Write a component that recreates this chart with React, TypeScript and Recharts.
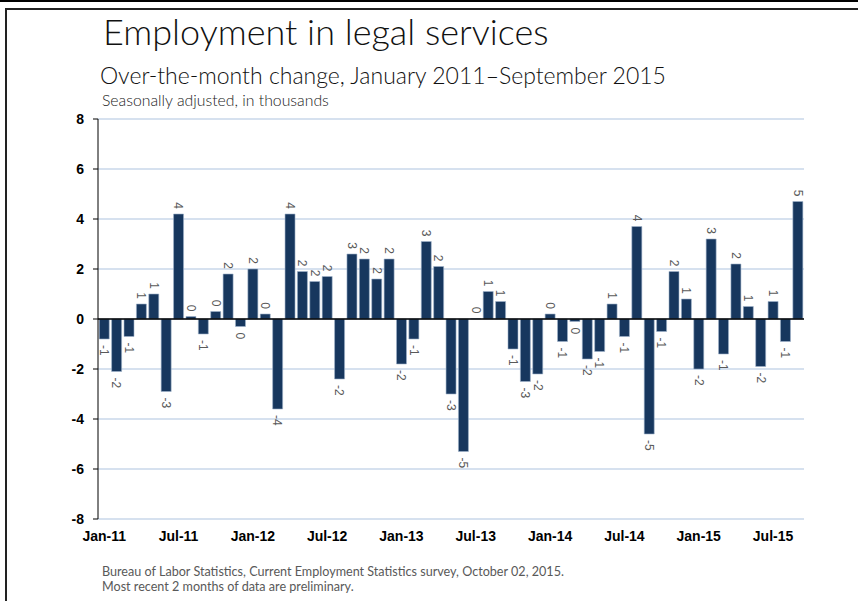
import { BarChart, Bar, XAxis, YAxis, CartesianGrid, ReferenceLine, LabelList } from 'recharts';

const months = [
  'Jan-11', 'Feb-11', 'Mar-11', 'Apr-11', 'May-11', 'Jun-11', 'Jul-11', 'Aug-11', 'Sep-11', 'Oct-11', 'Nov-11', 'Dec-11',
  'Jan-12', 'Feb-12', 'Mar-12', 'Apr-12', 'May-12', 'Jun-12', 'Jul-12', 'Aug-12', 'Sep-12', 'Oct-12', 'Nov-12', 'Dec-12',
  'Jan-13', 'Feb-13', 'Mar-13', 'Apr-13', 'May-13', 'Jun-13', 'Jul-13', 'Aug-13', 'Sep-13', 'Oct-13', 'Nov-13', 'Dec-13',
  'Jan-14', 'Feb-14', 'Mar-14', 'Apr-14', 'May-14', 'Jun-14', 'Jul-14', 'Aug-14', 'Sep-14', 'Oct-14', 'Nov-14', 'Dec-14',
  'Jan-15', 'Feb-15', 'Mar-15', 'Apr-15', 'May-15', 'Jun-15', 'Jul-15', 'Aug-15', 'Sep-15',
];

// over-the-month change, thousands
const change = [
  -0.8, -2.1, -0.7, 0.6, 1.0, -2.9, 4.2, 0.1, -0.6, 0.3, 1.8, -0.3,
  2.0, 0.2, -3.6, 4.2, 1.9, 1.5, 1.7, -2.4, 2.6, 2.4, 1.6, 2.4,
  -1.8, -0.8, 3.1, 2.1, -3.0, -5.3, 0.02, 1.1, 0.7, -1.2, -2.5, -2.2,
  0.2, -0.9, -0.1, -1.6, -1.3, 0.6, -0.7, 3.7, -4.6, -0.5, 1.9, 0.8,
  -2.0, 3.2, -1.4, 2.2, 0.5, -1.9, 0.7, -0.9, 4.7,
];

const yTicks = [-8, -6, -4, -2, 0, 2, 4, 6, 8];

const data = months.map((m, i) => ({ month: m, value: change[i] }));

const BAR = '#17375E';
const GRID = '#c8d7ea';
const FONT = "'Liberation Sans', Arial, sans-serif";
const LIGHT = "Lato, 'Open Sans', 'Noto Sans', sans-serif";

// excel-style rounding (half away from zero)
function roundLabel(v: number) {
  const r = Math.sign(v) * Math.round(Math.abs(v));
  return String(r === 0 ? 0 : r);
}

function BarLabel(props: any) {
  const { x, y, width, height, value } = props;
  const cx = Number(x) + Number(width) / 2;
  const top = Math.min(Number(y), Number(y) + Number(height));
  const bottom = Math.max(Number(y), Number(y) + Number(height));
  const pos = value >= 0;
  const ay = pos ? top - 5 : bottom + 6;
  return (
    <text
      x={cx}
      y={ay}
      transform={`rotate(90 ${cx} ${ay})`}
      textAnchor={pos ? 'end' : 'start'}
      dy="0.35em"
      fontSize={12}
      fontFamily={FONT}
      fill="#595959"
    >
      {roundLabel(value)}
    </text>
  );
}

export default function App() {
  return (
    <div style={{ position: 'absolute', left: 0, top: 0, width: 858, height: 601, background: '#fff', overflow: 'hidden' }}>
      {/* frame */}
      <div style={{ position: 'absolute', left: 0, top: 0, width: 858, height: 2, background: '#000' }} />
      <div style={{ position: 'absolute', left: 5, top: 8, width: 900, height: 700, borderLeft: '2px solid #222', borderTop: '2px solid #222' }} />

      <div style={{ position: 'absolute', left: 103, top: 9, fontFamily: LIGHT, fontWeight: 300, fontSize: 36, lineHeight: '44px', color: '#111', whiteSpace: 'nowrap' }}>
        Employment in legal services
      </div>
      <div style={{ position: 'absolute', left: 100, top: 61, fontFamily: LIGHT, fontWeight: 300, fontSize: 23, lineHeight: '28px', color: '#111', whiteSpace: 'nowrap' }}>
        Over-the-month change, January 2011–September 2015
      </div>
      <div style={{ position: 'absolute', left: 102, top: 90, fontFamily: LIGHT, fontWeight: 300, fontSize: 15.8, lineHeight: '20px', color: '#222', whiteSpace: 'nowrap' }}>
        Seasonally adjusted, in thousands
      </div>

      <div style={{ position: 'absolute', left: 0, top: 0 }}>
        <BarChart width={858} height={601} data={data} margin={{ top: 119, right: 54, bottom: 52, left: 0 }} barCategoryGap="10%">
          <CartesianGrid vertical={false} stroke={GRID} strokeWidth={1.5} />
          <XAxis
            dataKey="month"
            interval={5}
            axisLine={false}
            tickLine={false}
            height={30}
            tickMargin={6}
            tick={{ fontSize: 14, fontWeight: 700, fill: '#000', fontFamily: FONT }}
          />
          <YAxis
            domain={[-8, 8]}
            ticks={yTicks}
            width={98}
            axisLine={{ stroke: '#000' }}
            tickLine={{ stroke: '#000' }}
            tickSize={5}
            tickMargin={9}
            tick={{ fontSize: 14, fontWeight: 700, fill: '#000', fontFamily: FONT }}
          />
          <Bar dataKey="value" fill={BAR} stroke="#9fb3cb" strokeWidth={0.6} isAnimationActive={false}>
            <LabelList dataKey="value" content={BarLabel} />
          </Bar>
          <ReferenceLine y={0} stroke="#000" strokeWidth={1.5} />
        </BarChart>
      </div>

      <div style={{ position: 'absolute', left: 102, top: 564, fontFamily: LIGHT, fontSize: 12.6, color: '#595959', lineHeight: '15px', whiteSpace: 'nowrap' }}>
        Bureau of Labor Statistics, Current Employment Statistics survey, October 02, 2015.
        <br />
        Most recent 2 months of data are preliminary.
      </div>
    </div>
  );
}
